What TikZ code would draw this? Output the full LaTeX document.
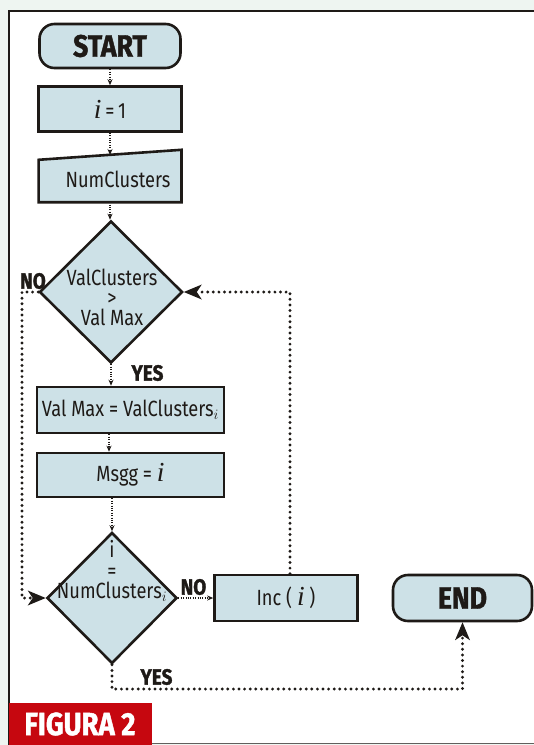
\documentclass[tikz,border=0pt]{standalone}
\usepackage{fontspec}
\setmainfont{Fira Sans}[FakeStretch=0.83]
\newfontfamily\headfont{Fira Sans}[FakeStretch=0.86, FakeBold=1.3]
\newfontfamily\varfont{Liberation Serif}[Scale=1.25]
\newcommand\vari{{\varfont\itshape i}}
\usetikzlibrary{shapes.geometric,arrows.meta}
\definecolor{ink}{HTML}{1E1A17}
\definecolor{boxblue}{HTML}{CDE1E7}
\definecolor{figred}{HTML}{C6070F}
\definecolor{pagebg}{HTML}{EEF5F1}
\tikzset{
  flowbox/.style={draw=ink, fill=boxblue, text=ink, line width=2.6pt, minimum width=143pt, minimum height=45pt, inner sep=0pt, font=\fontsize{22}{22}\selectfont},
  startstop/.style={flowbox, rounded corners=15pt, font=\headfont\bfseries\fontsize{31}{31}\selectfont},
  decision/.style={diamond, draw=ink, fill=boxblue, line width=2.6pt, inner sep=0pt},
  flowlink/.style={draw=ink, line width=1.1pt, dash pattern=on 1pt off 1.4pt, -{Stealth[length=6pt,width=5pt]}},
  backline/.style={draw=ink, line width=3.2pt, dash pattern=on 0pt off 5.6pt, line cap=round, -{Stealth[length=18pt,width=15pt,inset=5pt,line width=0pt]}},
  flowtag/.style={font=\headfont\bfseries\fontsize{22}{22}\selectfont, text=ink, inner sep=0pt},
  flowtext/.style={font=\fontsize{22}{20}\selectfont, text=ink, align=center, inner sep=0pt},
}
\begin{document}
\begin{tikzpicture}[x=1pt,y=-1pt]
\useasboundingbox (0,0) rectangle (534,745);
% page and frame
\fill[pagebg] (0,0) rectangle (534,745);
\fill[white] (9,11) rectangle (534,743);
\draw[ink,line width=2pt] (9,745) -- (9,11) -- (534,11);
\draw[ink!70,line width=1pt] (150,743) -- (534,743);

% blocks
\node[startstop, minimum width=141pt, minimum height=44pt] (start) at (110,46) {START};
\node[flowbox] (init) at (110,109) {\vari\,=\,1};
\node[minimum width=142.5pt, minimum height=52pt, inner sep=0pt] (numc) at (110,176) {};
\filldraw[draw=ink, fill=boxblue, line width=2.6pt] (numc.south west) -- ([yshift=-10pt]numc.north west) -- (numc.north east) -- (numc.south east) -- cycle;
\node[flowtext] (numctext) at (118,179) {NumClusters};
\coordinate (numtop) at (110,155);
\node[decision, minimum width=143pt, minimum height=142pt] (test1) at (111,292) {};
\node[flowtext] (test1text) at (112,297) {ValClusters\\>\\Val Max};
\node[flowbox, minimum width=187pt, minimum height=46pt] (setmax) at (130.5,410) {Val Max = ValClusters$_i$};
\node[flowbox, minimum width=187pt, minimum height=44pt] (setmsgg) at (130.5,475) {Msgg = \vari};
\node[decision, minimum width=130pt, minimum height=131pt] (test2) at (112,598) {};
\node[flowtext, font=\fontsize{22}{20.5}\selectfont] (test2text) at (112,571) {i\\=\\NumClusters$_i$};
\node[flowbox, minimum height=46pt] (inc) at (286,598) {Inc ( \vari\ )};
\node[startstop, minimum width=139pt, minimum height=46pt] (stop) at (462.5,598) {END};

% answers
\node[flowtag] (no1) at (33,281) {NO};
\node[flowtag] (yes1) at (147.5,373) {YES};
\node[flowtag] (no2) at (193.5,587) {NO};
\node[flowtag] (yes2) at (156.5,677) {YES};

% connectors
\draw[flowlink] (start.south) -- (init.north);
\draw[flowlink] (init.south) -- (numtop);
\draw[flowlink] (numc.south) -- (numc.south |- test1.north);
\draw[flowlink] (test1.south) -- (test1.south |- setmax.north);
\draw[flowlink] ([xshift=-21.5pt]setmax.south) -- ([xshift=-21.5pt]setmsgg.north);
\draw[flowlink] (test2.north |- setmsgg.south) -- (test2.north);
\draw[flowlink] (test2.east) -- (inc.west);
\draw[backline] ([xshift=4pt]inc.north) |- (test1.east);
\coordinate (noleft) at (22,292);
\draw[backline] (test1.west) -- (noleft) |- (test2.west);
\coordinate (yesbend) at (462.5,689);
\draw[backline] (test2.south) |- (yesbend) -- (stop.south);

% caption
\node[fill=figred, text=white, minimum width=143pt, minimum height=42pt, inner sep=0pt, font=\headfont\bfseries\fontsize{32}{32}\selectfont] (figlabel) at (80,724) {FIGURA 2};
\end{tikzpicture}
\end{document}
